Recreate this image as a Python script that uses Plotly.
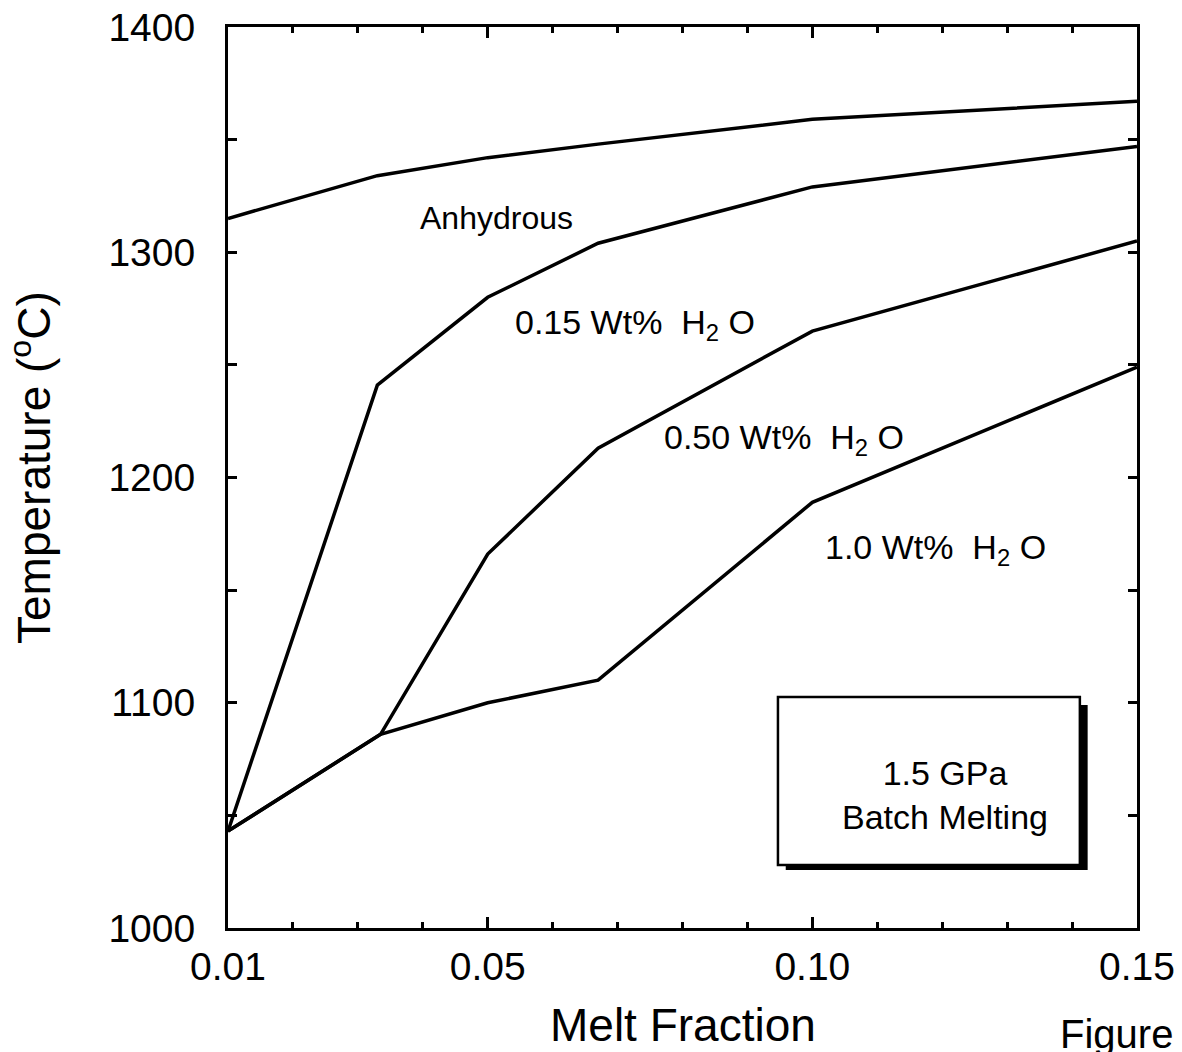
import plotly.graph_objects as go

# ---- data ----
melt_anhydrous = [0.01, 0.033, 0.05, 0.067, 0.10, 0.15]
temp_anhydrous = [1315, 1334, 1342, 1348, 1359, 1367]

melt_015 = [0.01, 0.033, 0.05, 0.067, 0.10, 0.15]
temp_015 = [1043, 1241, 1280, 1304, 1329, 1347]

melt_050 = [0.01, 0.0335, 0.05, 0.067, 0.10, 0.15]
temp_050 = [1043, 1086, 1166, 1213, 1265, 1305]

melt_100 = [0.01, 0.0335, 0.05, 0.067, 0.10, 0.15]
temp_100 = [1043, 1086, 1100, 1110, 1189, 1249]

x_tickvals = [0.01, 0.05, 0.10, 0.15]
x_ticktext = ["0.01", "0.05", "0.10", "0.15"]
y_tickvals = [1000, 1100, 1200, 1300, 1400]
y_ticktext = ["1000", "1100", "1200", "1300", "1400"]

curve_labels = ["Anhydrous",
                "0.15 Wt%\u00a0\u00a0H<sub>2</sub> O",
                "0.50 Wt%\u00a0\u00a0H<sub>2</sub> O",
                "1.0 Wt%\u00a0\u00a0H<sub>2</sub> O"]
label_x = [0.0514, 0.0727, 0.0957, 0.1190]
label_y = [1315, 1268, 1217, 1168]
label_size = [32, 34, 34, 34]

box_text = "1.5 GPa<br>Batch Melting"

FONT = "Liberation Sans, Arial, Helvetica, sans-serif"
LINE_W = 3.5

fig = go.Figure()
for xs, ys, name in [(melt_anhydrous, temp_anhydrous, "Anhydrous"),
                     (melt_015, temp_015, "0.15 Wt% H2O"),
                     (melt_050, temp_050, "0.50 Wt% H2O"),
                     (melt_100, temp_100, "1.0 Wt% H2O")]:
    fig.add_trace(go.Scatter(x=xs, y=ys, mode="lines", name=name,
                             line=dict(color="black", width=LINE_W),
                             showlegend=False, hoverinfo="x+y"))

# invisible trace to carry the top tick axis
fig.add_trace(go.Scatter(x=[0.01, 0.15], y=[1000, 1000], xaxis="x2", yaxis="y",
                         mode="lines", line=dict(width=0), opacity=0,
                         showlegend=False, hoverinfo="skip"))

# curve labels
for t, lx, ly, s in zip(curve_labels, label_x, label_y, label_size):
    fig.add_annotation(x=lx, y=ly, xref="x", yref="y", text=t, showarrow=False,
                       xanchor="center", yanchor="middle",
                       font=dict(family=FONT, size=s, color="black"))

# box with drop shadow
fig.add_shape(type="rect", xref="x", yref="y", x0=0.0959, x1=0.1424, y0=1025.7, y1=1099,
              fillcolor="black", line=dict(width=0), layer="above")
fig.add_shape(type="rect", xref="x", yref="y", x0=0.0947, x1=0.1412, y0=1028, y1=1102.6,
              fillcolor="white", line=dict(color="black", width=2.5), layer="above")
fig.add_annotation(x=0.1204, y=1059, xref="x", yref="y", text=box_text, showarrow=False,
                   xanchor="center", yanchor="middle",
                   font=dict(family=FONT, size=34, color="black"))

# axis titles & stray text
def px_to_paper(px, py):
    return (px - 228) / 909.0, (928 - py) / 901.0

tx, ty = px_to_paper(683, 1025)
fig.add_annotation(x=tx, y=ty, xref="paper", yref="paper", text="Melt Fraction",
                   showarrow=False, xanchor="center", yanchor="middle",
                   font=dict(family=FONT, size=46, color="black"))
tx, ty = px_to_paper(31, 468)
fig.add_annotation(x=tx, y=ty, xref="paper", yref="paper", text="Temperature (<sup>o</sup>C)",
                   showarrow=False, textangle=-90, xanchor="center", yanchor="middle",
                   font=dict(family=FONT, size=46, color="black"))
tx, ty = px_to_paper(1116, 1034)
fig.add_annotation(x=tx, y=ty, xref="paper", yref="paper", text="Figure",
                   showarrow=False, xanchor="center", yanchor="middle",
                   font=dict(family=FONT, size=40, color="black"))

fig.update_layout(
    width=1182, height=1052,
    margin=dict(l=220, r=53, t=19, b=132, autoexpand=False),
    paper_bgcolor="white", plot_bgcolor="white",
    showlegend=False,
    xaxis2=dict(overlaying="x", side="top", range=[0.01, 0.15],
                tickvals=x_tickvals, showticklabels=False,
                ticks="inside", ticklen=11, tickwidth=3, tickcolor="black",
                showline=False, showgrid=False, zeroline=False,
                minor=dict(tick0=0.01, dtick=0.01, ticks="inside", ticklen=6,
                           tickwidth=3, tickcolor="black", showgrid=False)),
)
fig.layout.xaxis.update(range=[0.01, 0.15], tickvals=x_tickvals, ticktext=x_ticktext,
                        ticks="inside", ticklen=11, tickwidth=3, tickcolor="black",
                        showline=True, linewidth=3, linecolor="black", mirror=True,
                        showgrid=False, zeroline=False,
                        tickfont=dict(family=FONT, size=39, color="black"),
                        ticklabelstandoff=2, ticklabeloverflow="allow",
                        minor=dict(tick0=0.01, dtick=0.01, ticks="inside", ticklen=6,
                                   tickwidth=3, tickcolor="black", showgrid=False))
fig.layout.yaxis.update(range=[1000, 1400], tickvals=y_tickvals, ticktext=y_ticktext,
                        ticks="inside", ticklen=9, tickwidth=3, tickcolor="black",
                        showline=True, linewidth=3, linecolor="black", mirror="ticks",
                        showgrid=False, zeroline=False,
                        tickfont=dict(family=FONT, size=39, color="black"),
                        ticklabelstandoff=22, ticklabeloverflow="allow",
                        minor=dict(tick0=1000, dtick=50, ticks="inside", ticklen=9,
                                   tickwidth=3, tickcolor="black", showgrid=False))

fig.write_html("out.html")
